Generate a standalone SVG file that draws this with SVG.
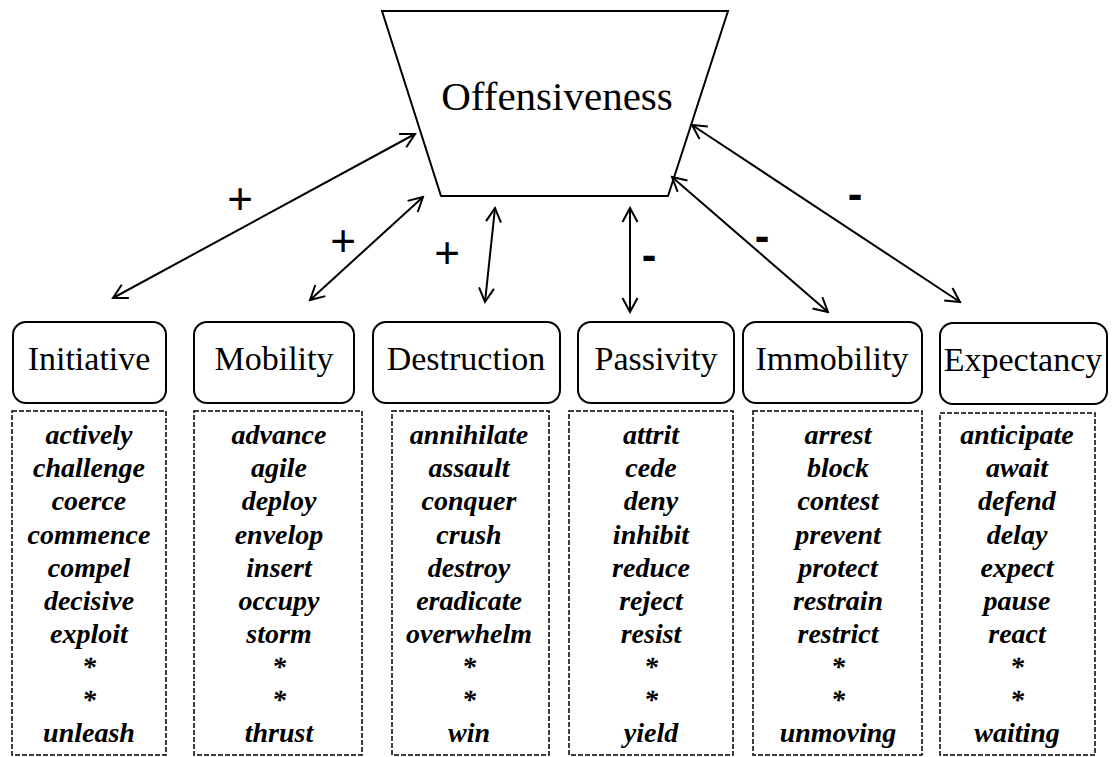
<svg xmlns="http://www.w3.org/2000/svg" width="1112" height="757" viewBox="0 0 1112 757">
<style>
.bg{fill:#fff}
.shape{fill:#fff;stroke:#000;stroke-width:2}
.list{fill:none;stroke:#000;stroke-width:1.5;stroke-dasharray:5 2}
.title{font-family:'Liberation Serif','Times New Roman',serif;font-size:41px;fill:#000;text-anchor:middle}
.lbl{font-family:'Liberation Serif','Times New Roman',serif;font-size:34px;fill:#000;text-anchor:middle}
.w{font-family:'Liberation Serif','Times New Roman',serif;font-size:28px;font-weight:bold;font-style:italic;fill:#000;text-anchor:middle}
.conn{fill:none;stroke:#000;stroke-width:2;marker-start:url(#ah);marker-end:url(#ah)}
.sign{font-family:'Liberation Sans',Arial,sans-serif;font-size:44px;fill:#000;text-anchor:middle}
.minus{font-family:'Liberation Sans',Arial,sans-serif;font-size:44px;font-weight:bold;fill:#000;text-anchor:middle}
</style>
<defs>
<marker id="ah" viewBox="-15 -9 17 18" markerWidth="17" markerHeight="18" refX="0" refY="0" orient="auto-start-reverse" markerUnits="userSpaceOnUse">
<path d="M-14,-7.5 L0,0 L-14,7.5" fill="none" stroke="#000" stroke-width="2"/>
</marker>
</defs>
<rect class="bg" x="0" y="0" width="1112" height="757"/>

<g id="offensiveness">
<polygon class="shape" points="382,11 728,11 668,196 441,196"/>
<text class="title" x="557" y="110">Offensiveness</text>
</g>

<g id="connectors">
<line class="conn" x1="113" y1="298" x2="415" y2="134"/>
<line class="conn" x1="310" y1="300" x2="423" y2="197"/>
<line class="conn" x1="485" y1="302" x2="495" y2="208"/>
<line class="conn" x1="630" y1="312" x2="630" y2="208"/>
<line class="conn" x1="828" y1="312" x2="672" y2="177"/>
<line class="conn" x1="960" y1="302" x2="692" y2="125"/>
<text class="sign" x="240" y="214">+</text>
<text class="sign" x="343" y="256">+</text>
<text class="sign" x="447" y="268">+</text>
<text class="minus" x="649" y="270">-</text>
<text class="minus" x="762" y="251">-</text>
<text class="minus" x="855" y="209">-</text>
</g>

<g id="initiative">
<rect class="shape" x="13" y="322" width="153" height="81" rx="13"/>
<text class="lbl" x="89" y="370">Initiative</text>
<rect class="list" x="12" y="411" width="154" height="344"/>
<text class="w" x="89" y="444">actively</text>
<text class="w" x="89" y="477">challenge</text>
<text class="w" x="89" y="510">coerce</text>
<text class="w" x="89" y="544">commence</text>
<text class="w" x="89" y="577">compel</text>
<text class="w" x="89" y="610">decisive</text>
<text class="w" x="89" y="643">exploit</text>
<text class="w" x="89" y="676">*</text>
<text class="w" x="89" y="709">*</text>
<text class="w" x="89" y="742">unleash</text>
</g>

<g id="mobility">
<rect class="shape" x="194" y="322" width="160" height="81" rx="13"/>
<text class="lbl" x="274" y="370">Mobility</text>
<rect class="list" x="194" y="411" width="168" height="344"/>
<text class="w" x="279" y="444">advance</text>
<text class="w" x="279" y="477">agile</text>
<text class="w" x="279" y="510">deploy</text>
<text class="w" x="279" y="544">envelop</text>
<text class="w" x="279" y="577">insert</text>
<text class="w" x="279" y="610">occupy</text>
<text class="w" x="279" y="643">storm</text>
<text class="w" x="279" y="676">*</text>
<text class="w" x="279" y="709">*</text>
<text class="w" x="279" y="742">thrust</text>
</g>

<g id="destruction">
<rect class="shape" x="373" y="322" width="187" height="81" rx="13"/>
<text class="lbl" x="466" y="370">Destruction</text>
<rect class="list" x="392" y="411" width="157" height="344"/>
<text class="w" x="469" y="444">annihilate</text>
<text class="w" x="469" y="477">assault</text>
<text class="w" x="469" y="510">conquer</text>
<text class="w" x="469" y="544">crush</text>
<text class="w" x="469" y="577">destroy</text>
<text class="w" x="469" y="610">eradicate</text>
<text class="w" x="469" y="643">overwhelm</text>
<text class="w" x="469" y="676">*</text>
<text class="w" x="469" y="709">*</text>
<text class="w" x="469" y="742">win</text>
</g>

<g id="passivity">
<rect class="shape" x="578" y="322" width="156" height="81" rx="13"/>
<text class="lbl" x="656" y="370">Passivity</text>
<rect class="list" x="569" y="411" width="164" height="344"/>
<text class="w" x="651" y="444">attrit</text>
<text class="w" x="651" y="477">cede</text>
<text class="w" x="651" y="510">deny</text>
<text class="w" x="651" y="544">inhibit</text>
<text class="w" x="651" y="577">reduce</text>
<text class="w" x="651" y="610">reject</text>
<text class="w" x="651" y="643">resist</text>
<text class="w" x="651" y="676">*</text>
<text class="w" x="651" y="709">*</text>
<text class="w" x="651" y="742">yield</text>
</g>

<g id="immobility">
<rect class="shape" x="743" y="322" width="179" height="81" rx="13"/>
<text class="lbl" x="832" y="370">Immobility</text>
<rect class="list" x="753" y="411" width="169" height="344"/>
<text class="w" x="838" y="444">arrest</text>
<text class="w" x="838" y="477">block</text>
<text class="w" x="838" y="510">contest</text>
<text class="w" x="838" y="544">prevent</text>
<text class="w" x="838" y="577">protect</text>
<text class="w" x="838" y="610">restrain</text>
<text class="w" x="838" y="643">restrict</text>
<text class="w" x="838" y="676">*</text>
<text class="w" x="838" y="709">*</text>
<text class="w" x="838" y="742">unmoving</text>
</g>

<g id="expectancy">
<rect class="shape" x="940" y="323" width="167" height="81" rx="13"/>
<text class="lbl" x="1023" y="371">Expectancy</text>
<rect class="list" x="940" y="413" width="155" height="342"/>
<text class="w" x="1017" y="444">anticipate</text>
<text class="w" x="1017" y="477">await</text>
<text class="w" x="1017" y="510">defend</text>
<text class="w" x="1017" y="544">delay</text>
<text class="w" x="1017" y="577">expect</text>
<text class="w" x="1017" y="610">pause</text>
<text class="w" x="1017" y="643">react</text>
<text class="w" x="1017" y="676">*</text>
<text class="w" x="1017" y="709">*</text>
<text class="w" x="1017" y="742">waiting</text>
</g>
</svg>
